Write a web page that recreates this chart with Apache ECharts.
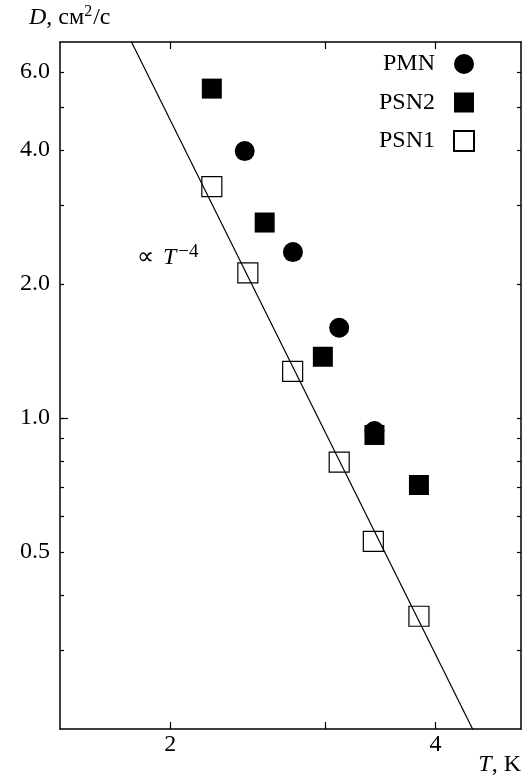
<!DOCTYPE html>
<html>
<head>
<meta charset="utf-8">
<script src="https://cdn.jsdelivr.net/npm/echarts@6/dist/echarts.min.js"></script>
<style>html,body{margin:0;padding:0;background:#fff;}#c{width:526px;height:780px;}</style>
</head>
<body>
<div id="c"></div>
<script>
// Data (T in K, D in cm^2/s)
const pmnT  = [2.43, 2.756, 3.11, 3.41];
const pmnD  = [3.98, 2.36, 1.595, 0.935];
const psn2T = [2.23, 2.56, 2.98, 3.41, 3.83];
const psn2D = [5.50, 2.75, 1.373, 0.916, 0.707];
const psn1T = [2.23, 2.45, 2.754, 3.11, 3.40, 3.83];
const psn1D = [3.31, 2.12, 1.273, 0.796, 0.528, 0.3585];
const fitT  = [1.808, 4.417];
const fitD  = [7.0, 0.198];
const xTicks = [2, 3, 4];
const xLabels = [2, 4];
const yTicks = [0.3, 0.4, 0.5, 0.6, 0.7, 0.8, 0.9, 1, 2, 3, 4, 5, 6];
const yLabels = [0.5, 1, 2, 4, 6];

const zip = (a, b) => a.map((v, i) => [v, b[i]]);
const FONT = 'Liberation Serif';
const FS = 24;
const chart = echarts.init(document.getElementById('c'), null, {renderer: 'canvas'});
const axisLine = {show: true, lineStyle: {color: '#000', width: 1.5}};
const xBase = {type: 'log', min: 1.5, max: 5, splitLine: {show: false}, axisLine};
const yBase = {type: 'log', min: 0.2, max: 7, splitLine: {show: false}, axisLine};

chart.setOption({
  animation: false,
  backgroundColor: '#fff',
  grid: {left: 60, right: 5, top: 42, bottom: 51, containLabel: false, outerBoundsMode: 'none'},
  xAxis: [
    Object.assign({}, xBase, {
      position: 'bottom',
      name: '{i|T}, K', nameLocation: 'end', nameGap: 0,
      nameTextStyle: {fontFamily: FONT, fontSize: FS, color: '#000', align: 'right', verticalAlign: 'top', padding: [24, 0, 0, 0],
        rich: {i: {fontFamily: FONT, fontStyle: 'italic', fontSize: FS, color: '#000'}}},
      axisTick: {inside: true, length: 7, lineStyle: {color: '#000', width: 1.2}, customValues: xTicks},
      axisLabel: {customValues: xLabels, fontFamily: FONT, fontSize: FS, color: '#000', margin: 4}
    }),
    Object.assign({}, xBase, {
      position: 'top',
      axisTick: {inside: true, length: 7, lineStyle: {color: '#000', width: 1.2}, customValues: xTicks},
      axisLabel: {show: false}
    })
  ],
  yAxis: [
    Object.assign({}, yBase, {
      position: 'left',
      name: '{i|D}, см{s|2}/с', nameLocation: 'end', nameGap: 11,
      nameTextStyle: {fontFamily: FONT, fontSize: FS, color: '#000', align: 'left', padding: [0, 0, 0, -31],
        rich: {i: {fontFamily: FONT, fontStyle: 'italic', fontSize: FS, color: '#000'},
               s: {fontFamily: FONT, fontSize: 16, color: '#000', verticalAlign: 'bottom', padding: [0, 1, 11, 0]}}},
      axisTick: {inside: true, length: 4, lineStyle: {color: '#000', width: 1.2}, customValues: yTicks},
      axisLabel: {customValues: yLabels, fontFamily: FONT, fontSize: FS, color: '#000', margin: 10,
        formatter: v => Number(v).toFixed(1)}
    }),
    Object.assign({}, yBase, {
      position: 'right',
      axisTick: {inside: true, length: 4, lineStyle: {color: '#000', width: 1.2}, customValues: yTicks},
      axisLabel: {show: false}
    }),
    Object.assign({}, yBase, {
      position: 'left', axisLine: {show: false},
      axisTick: {inside: true, length: 8, lineStyle: {color: '#000', width: 1.2}, customValues: [1]},
      axisLabel: {show: false}
    })
  ],
  legend: {
    right: 46, top: 47, orient: 'vertical', align: 'right',
    itemWidth: 20, itemHeight: 20, itemGap: 14.5,
    textStyle: {fontFamily: FONT, fontSize: FS, color: '#000', padding: [0, 14, 0, 0]},
    data: [
      {name: 'PMN', icon: 'circle'},
      {name: 'PSN2', icon: 'rect'},
      {name: 'PSN1', icon: 'rect'}
    ]
  },
  graphic: [{
    type: 'text', left: 137, top: 243,
    style: {text: '∝ {i|T}{s|−4}', fontFamily: FONT, fontSize: FS, fill: '#000',
      rich: {i: {fontFamily: FONT, fontStyle: 'italic', fontSize: FS, padding: [0, 0, 0, 3]},
             s: {fontFamily: FONT, fontSize: 19, verticalAlign: 'bottom', padding: [0, 0, 10, 2]}}}
  }],
  series: [
    {name: 'fit', type: 'line', data: zip(fitT, fitD), symbol: 'none', z: 5,
      lineStyle: {color: '#000', width: 1.2}, silent: true},
    {name: 'PMN', type: 'scatter', data: zip(pmnT, pmnD), symbol: 'circle', symbolSize: 20,
      itemStyle: {color: '#000', opacity: 1}, z: 2},
    {name: 'PSN2', type: 'scatter', data: zip(psn2T, psn2D), symbol: 'rect', symbolSize: 20,
      itemStyle: {color: '#000', opacity: 1}, z: 3},
    {name: 'PSN1', type: 'scatter', data: zip(psn1T, psn1D), symbol: 'rect', symbolSize: 20,
      itemStyle: {color: 'rgba(255,255,255,0)', borderColor: '#000', borderWidth: 1.2, opacity: 1}, z: 4}
  ]
});
</script>
</body>
</html>
